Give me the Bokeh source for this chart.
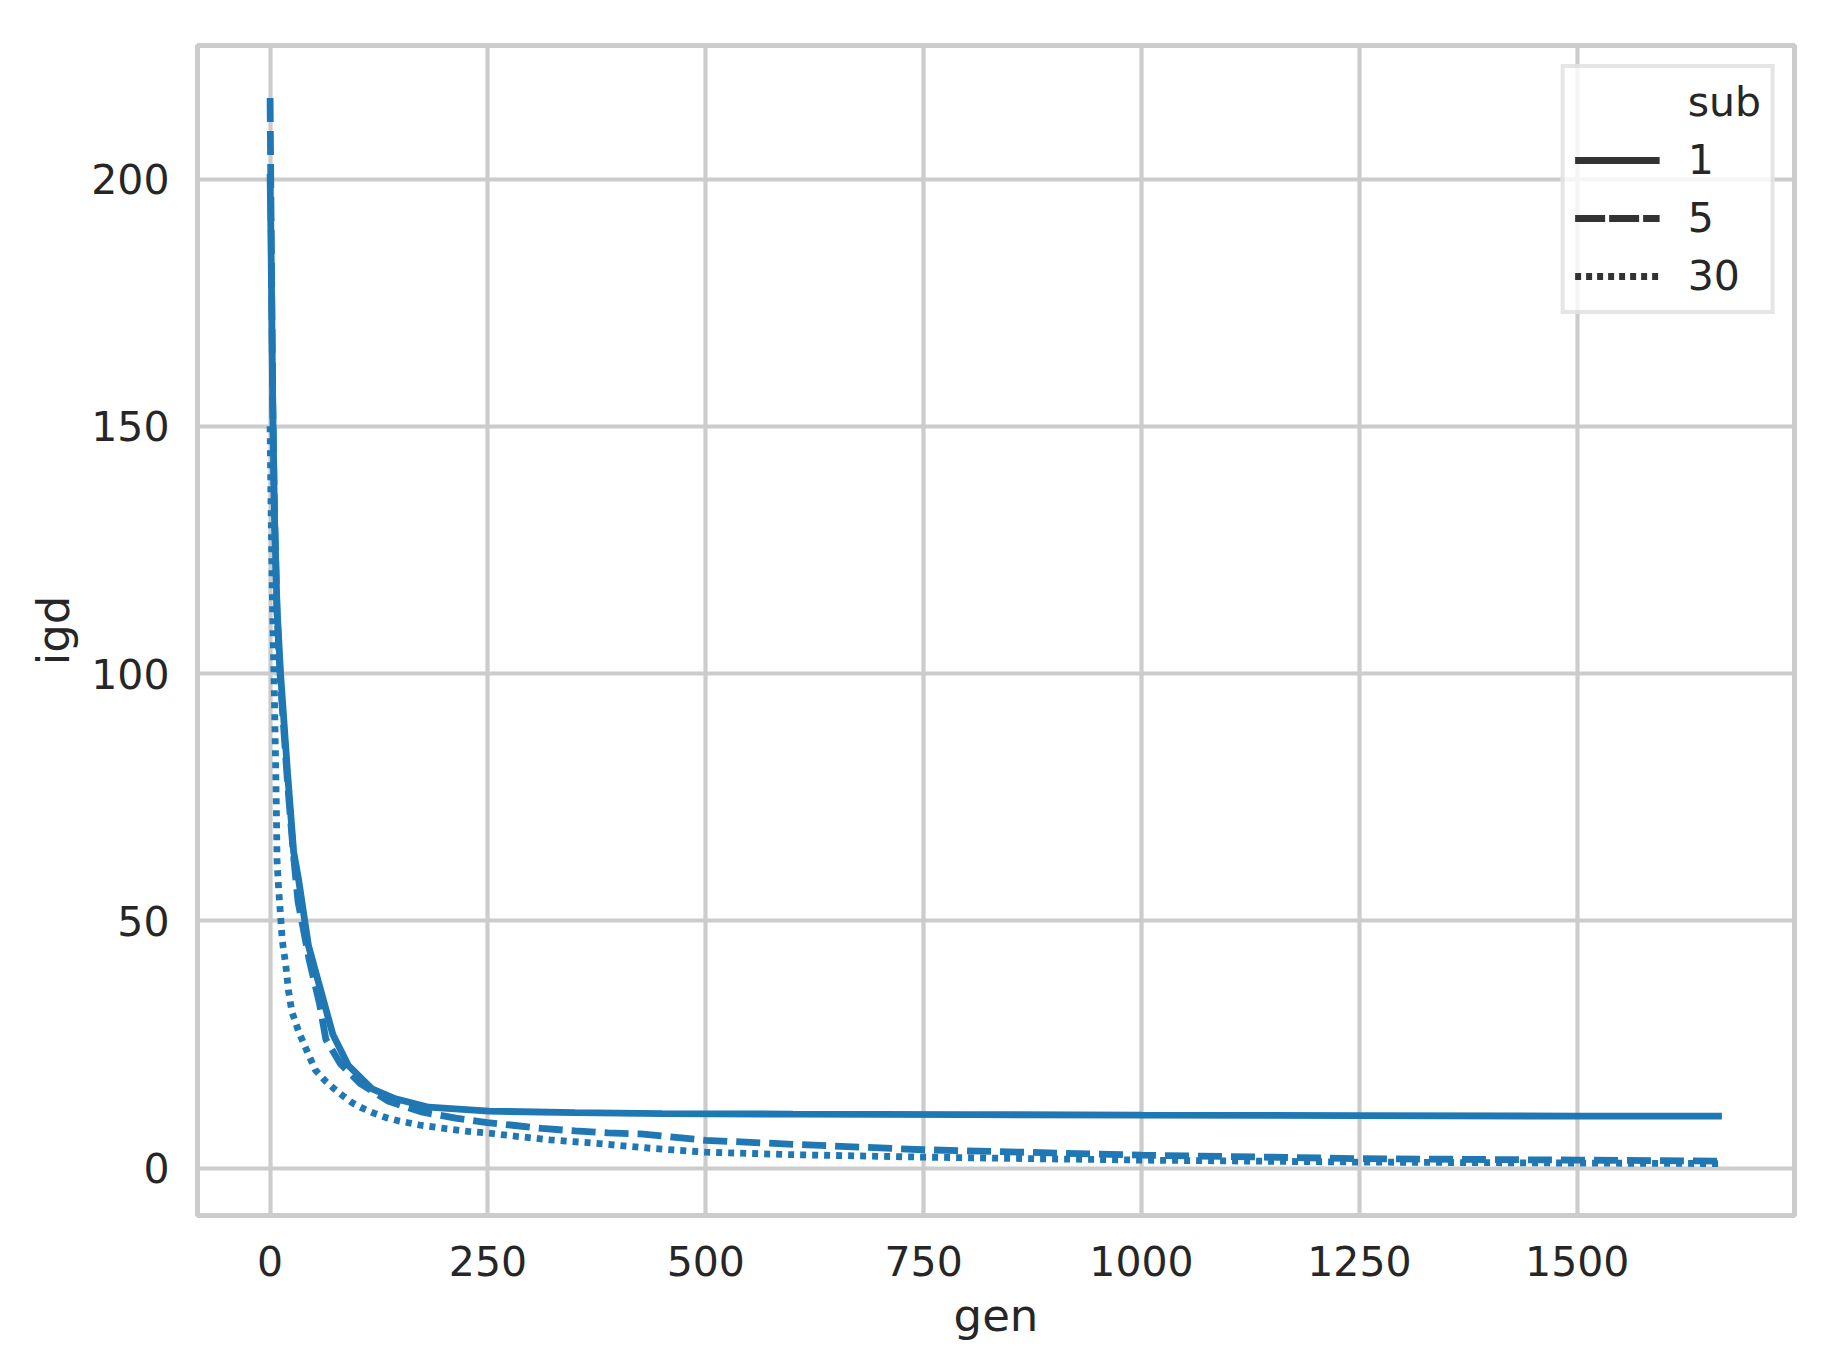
from bokeh.plotting import figure
from bokeh.models import Range1d, FixedTicker, Legend, LegendItem
from bokeh.embed import file_html
from bokeh.resources import INLINE

# ---- data ----
gen_sub1 = [0, 1, 2, 3, 5, 8, 12, 20, 27, 33, 44, 58, 72, 90, 117, 144, 182, 251,
            350, 450, 600, 800, 1000, 1250, 1500, 1666]
igd_sub1 = [201, 188, 172, 155, 132, 113, 100, 80, 64, 58, 45, 36, 27, 20.7, 16.0,
            14.0, 12.3, 11.5, 11.2, 11.0, 10.9, 10.8, 10.7, 10.6, 10.5, 10.5]

gen_sub5 = [0, 1, 2, 3, 5, 8, 12, 20, 27, 32, 45, 57, 64, 81, 104, 136, 175, 213,
            249, 281, 312, 350, 388, 425, 500, 600, 750, 1000, 1250, 1500, 1666]
igd_sub5 = [216.4, 195, 175, 155, 133, 112, 98, 78, 63, 54, 42, 33, 26, 21, 17,
            13.5, 11.3, 10.1, 9.2, 8.6, 8.0, 7.5, 7.1, 6.9, 5.6, 4.8, 3.7, 2.6, 1.9,
            1.6, 1.4]

gen_sub30 = [0, 1, 2, 3, 5, 7, 8, 10, 14, 18, 21, 25, 33, 41, 52, 64, 73, 85, 95,
             106, 119, 133, 146, 171, 200, 227, 254, 283, 321, 374, 436, 500, 600,
             750, 1000, 1250, 1500, 1666]
igd_sub30 = [150, 135, 122, 112, 95, 75, 62, 56, 46, 41, 36, 31.6, 27.5, 24.2,
             19.8, 17.5, 16.1, 14.4, 13.1, 12.1, 11.1, 10.2, 9.6, 8.7, 8.0, 7.4, 7.0,
             6.4, 5.7, 5.0, 4.0, 3.2, 2.7, 2.2, 1.6, 1.2, 1.0, 0.9]

x_ticks = [0, 250, 500, 750, 1000, 1250, 1500]
y_ticks = [0, 50, 100, 150, 200]
legend_title = "sub"
legend_labels = ["1", "5", "30"]

BLUE = "#1f77b4"
GRID = "#cccccc"
TEXT = "#262626"
FONT = "DejaVu Sans"
LW = 6.8

p = figure(width=1826, height=1353, output_backend="svg", toolbar_location=None,
           x_range=Range1d(-83.3, 1749.3), y_range=Range1d(-9.6, 227.0),
           min_border_left=197, min_border_right=32, min_border_top=45,
           min_border_bottom=138, background_fill_color="white",
           border_fill_color="white")

p.xaxis.ticker = FixedTicker(ticks=x_ticks)
p.yaxis.ticker = FixedTicker(ticks=y_ticks)
p.xaxis.axis_label = "gen"
p.yaxis.axis_label = "igd"

for ax in (p.xaxis, p.yaxis):
    ax.axis_line_color = None
    ax.major_tick_line_color = None
    ax.minor_tick_line_color = None
    ax.major_tick_out = 0
    ax.major_tick_in = 0
    ax.major_label_text_font = FONT
    ax.major_label_text_font_size = "41px"
    ax.major_label_text_color = TEXT
    ax.axis_label_text_font = FONT
    ax.axis_label_text_font_size = "45px"
    ax.axis_label_text_font_style = "normal"
    ax.axis_label_text_color = TEXT

p.xaxis.major_label_standoff = 30
p.yaxis.major_label_standoff = 28
p.xaxis.axis_label_standoff = 10
p.yaxis.axis_label_standoff = 8

p.grid.grid_line_color = GRID
p.grid.grid_line_width = 4.2
p.outline_line_color = GRID
p.outline_line_width = 5

p.line(gen_sub1, igd_sub1, line_color=BLUE, line_width=LW)
p.line(gen_sub5, igd_sub5, line_color=BLUE, line_width=LW, line_dash="24 9")
p.line(gen_sub30, igd_sub30, line_color=BLUE, line_width=LW, line_dash="6 6")

# legend handles (dark gray, as in the reference); data lies outside the view
off_x = [-5000, -4999]
off_y = [-5000, -5000]
r_t = p.line(off_x, off_y, line_alpha=0)
r1 = p.line(off_x, off_y, line_color="#333333", line_width=LW)
r5 = p.line(off_x, off_y, line_color="#333333", line_width=LW, line_dash="30 4")
r30 = p.line(off_x, off_y, line_color="#333333", line_width=LW, line_dash="6 5")

legend = Legend(items=[LegendItem(label=legend_title, renderers=[r_t]),
                       LegendItem(label=legend_labels[0], renderers=[r1]),
                       LegendItem(label=legend_labels[1], renderers=[r5]),
                       LegendItem(label=legend_labels[2], renderers=[r30])],
                location="top_right")
legend.label_text_font = FONT
legend.label_text_font_size = "41px"
legend.label_text_color = TEXT
legend.label_text_baseline = "middle"
legend.glyph_width = 85
legend.glyph_height = 40
legend.label_height = 40
legend.label_standoff = 28
legend.spacing = 10
legend.padding = 10
legend.margin = 19
legend.border_line_color = GRID
legend.border_line_width = 4
legend.background_fill_color = "white"
legend.background_fill_alpha = 0.8
p.add_layout(legend)

open("out.html", "w").write(file_html(p, INLINE))
